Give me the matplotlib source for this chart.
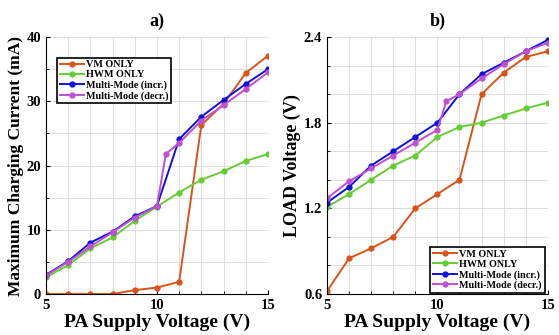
import matplotlib.pyplot as plt

plt.rcParams['font.family'] = 'Liberation Serif'
plt.rcParams['font.weight'] = 'bold'
plt.rcParams['axes.labelweight'] = 'bold'
plt.rcParams['axes.titleweight'] = 'bold'

v = [5, 6, 7, 8, 9, 10, 11, 12, 13, 14, 15]
v_decr = [5, 6, 7, 8, 9, 10, 10.4, 11, 12, 13, 14, 15]

# a) maximum charging current (mA)
cur_vm = [0, 0, 0, 0, 0.6, 1.0, 1.9, 26.3, 29.6, 34.4, 37.1]
cur_hwm = [2.6, 4.5, 7.1, 8.8, 11.4, 13.6, 15.8, 17.8, 19.1, 20.7, 21.8]
cur_incr = [3.0, 5.1, 8.0, 9.7, 12.1, 13.7, 24.1, 27.6, 30.2, 32.7, 35.0]
cur_decr = [2.9, 5.0, 7.4, 9.6, 11.9, 13.7, 21.8, 23.5, 27.0, 29.4, 31.9, 34.5]

# b) load voltage (V)
vl_vm = [0.62, 0.85, 0.92, 1.0, 1.2, 1.30, 1.40, 2.0, 2.15, 2.26, 2.30]
vl_hwm = [1.21, 1.30, 1.40, 1.50, 1.57, 1.70, 1.77, 1.80, 1.85, 1.90, 1.94]
vl_incr = [1.24, 1.35, 1.50, 1.60, 1.70, 1.80, 2.0, 2.14, 2.22, 2.30, 2.38]
vl_decr = [1.27, 1.39, 1.48, 1.57, 1.66, 1.75, 1.95, 2.0, 2.11, 2.21, 2.30, 2.36]

labels = ['VM ONLY', 'HWM ONLY', 'Multi-Mode (incr.)', 'Multi-Mode (decr.)']
colors = ['#D95319', '#66CC33', '#1010E0', '#C050D0']

fig = plt.figure(figsize=(5.59, 3.35), dpi=100)
ax1 = fig.add_axes([0.0823, 0.1224, 0.397, 0.767])
ax2 = fig.add_axes([0.585, 0.1224, 0.395, 0.767])


def draw(ax, series, xs):
    for x, y, lab, c in zip(xs, series, labels, colors):
        ax.plot(x, y, '-o', color=c, lw=1.4, ms=3.5, label=lab)
    ax.set_xlim(5, 15)
    ax.set_xticks([5, 10, 15])
    ax.set_xticks(range(5, 16), minor=True)
    ax.grid(True, which='both', color='#dddddd', lw=0.7)
    ax.set_axisbelow(True)
    for s in ['top', 'right']:
        ax.spines[s].set_visible(False)
    ax.tick_params(direction='in', labelsize=10.5, length=3)
    ax.tick_params(which='minor', direction='in', length=2)
    ax.set_xlabel('PA Supply Voltage (V)', fontsize=14, labelpad=1)


def legend(ax, **kw):
    leg = ax.legend(fontsize=7.3, frameon=True, fancybox=False,
                    edgecolor='black', framealpha=1, handlelength=2.4,
                    borderpad=0.25, labelspacing=0.1, handletextpad=0.2,
                    borderaxespad=0, **kw)
    leg.get_frame().set_linewidth(1.2)


xs = [v, v, v, v_decr]
draw(ax1, [cur_vm, cur_hwm, cur_incr, cur_decr], xs)
ax1.set_ylim(0, 40)
ax1.set_yticks([0, 10, 20, 30, 40])
ax1.set_yticks(range(0, 41, 5), minor=True)
ax1.set_ylabel('Maximum Charging Current (mA)', fontsize=12.5, labelpad=2)
ax1.set_title('a)', fontsize=13, pad=8)
legend(ax1, loc='upper left', bbox_to_anchor=(0.05, 0.92))

draw(ax2, [vl_vm, vl_hwm, vl_incr, vl_decr], xs)
ax2.set_ylim(0.6, 2.4)
ax2.set_yticks([0.6, 1.2, 1.8, 2.4])
ax2.set_yticks([0.6 + 0.2 * i for i in range(10)], minor=True)
ax2.set_ylabel('LOAD Voltage (V)', fontsize=13, labelpad=2)
ax2.set_title('b)', fontsize=13, pad=8)
legend(ax2, loc='lower right', bbox_to_anchor=(0.985, 0.005))

fig.savefig('out.png', dpi=100)
